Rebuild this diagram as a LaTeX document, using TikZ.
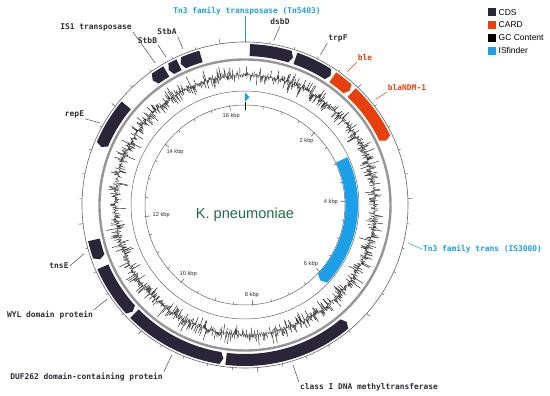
\documentclass[tikz,border=0pt]{standalone}
\usepackage{fontspec}
\setmainfont{Liberation Sans}
\newfontfamily\monof{DejaVu Sans Mono}
\definecolor{cds}{RGB}{42,37,57}
\definecolor{card}{RGB}{232,64,12}
\definecolor{isf}{RGB}{26,159,232}
\definecolor{txt}{RGB}{45,45,55}
\definecolor{kgreen}{RGB}{30,110,70}
\definecolor{ringgray}{RGB}{150,150,150}
\definecolor{circgray}{RGB}{100,100,100}
\tikzset{
  lbl/.style={font=\monof\bfseries\fontsize{7.9}{9}\selectfont, text=txt, inner sep=1pt},
  lead/.style={draw=txt!85, line width=0.5pt},
  kbp/.style={font=\fontsize{5.7}{6}\selectfont, text=txt, inner sep=0.8pt},
  legtxt/.style={font=\fontsize{8.5}{10}\selectfont, text=black, anchor=west, inner sep=0pt},
  legbox/.style={minimum width=8pt, minimum height=8pt, inner sep=0pt},
  gcl/.style={line width=0.45pt, black!90},
  thincirc/.style={draw=circgray, line width=0.5pt}
}
% clockwise feature, tip at end angle #2
\newcommand\featcw[5]{%
  \pgfmathsetmacro\fA{90-#1}%
  \pgfmathsetmacro\fB{90-#2}%
  \pgfmathsetmacro\fM{(#3+#4)/2}%
  \pgfmathsetmacro\fH{\fB+3/\fM*57.2958}%
  \fill[#5] (\fA:#4) arc[start angle=\fA, end angle=\fH, radius=#4 pt] -- (\fB:\fM)
    -- (\fH:#3) arc[start angle=\fH, end angle=\fA, radius=#3 pt] -- cycle;
}
% counter-clockwise feature, tip at start angle #1
\newcommand\featccw[5]{%
  \pgfmathsetmacro\fA{90-#1}%
  \pgfmathsetmacro\fB{90-#2}%
  \pgfmathsetmacro\fM{(#3+#4)/2}%
  \pgfmathsetmacro\fH{\fA-3/\fM*57.2958}%
  \fill[#5] (\fA:\fM) -- (\fH:#4) arc[start angle=\fH, end angle=\fB, radius=#4 pt]
    -- (\fB:#3) arc[start angle=\fB, end angle=\fH, radius=#3 pt] -- cycle;
}
\begin{document}
\begin{tikzpicture}[x=1pt,y=1pt]
\useasboundingbox (-245,-191) rectangle (305,205);
\fill[white] (-245,-191) rectangle (305,205);

% ---- rings
\draw[thincirc, line width=0.6pt] (0,0) circle[radius=163pt];
\draw[draw=ringgray, line width=2.4pt] (0,0) circle[radius=145.5pt];
\draw[thincirc] (0,0) circle[radius=114pt];
\draw[thincirc] (0,0) circle[radius=100pt];

% outer ticks every 0.4 kbp (16.4 kbp total)
\foreach \k in {0,...,40}{
  \pgfmathsetmacro\ta{90-\k*0.4/16.4*360}
  \pgfmathtruncatemacro\mj{mod(\k,5)==0 ? 1 : 0}
  \ifnum\mj=1
    \draw[circgray, line width=0.6pt] (\ta:163) -- (\ta:167.5);
  \else
    \draw[circgray, line width=0.5pt] (\ta:163) -- (\ta:165.5);
  \fi
}
% inner ruler ticks every 0.5 kbp
\foreach \j in {0,...,32}{
  \pgfmathsetmacro\ta{90-\j*0.5/16.4*360}
  \pgfmathtruncatemacro\mj{mod(\j,4)==0 ? 1 : 0}
  \ifnum\mj=1
    \draw[circgray, line width=0.6pt] (\ta:95.5) -- (\ta:101);
  \else
    \draw[circgray, line width=0.5pt] (\ta:97.5) -- (\ta:100);
  \fi
}
\draw[black, line width=0.9pt] (90:95) -- (90:103);
% ruler labels
\foreach \kb in {2,4,...,16}{
  \pgfmathsetmacro\ta{90-\kb/16.4*360}
  \node[kbp, anchor=\ta] (kb\kb) at (\ta:94) {\kb\ kbp};
}

% ---- GC content
\pgfmathsetseed{7}
\foreach \i in {0,...,1799}{
  \pgfmathsetmacro\ang{90-\i*0.2}
  \pgfmathsetmacro\rr{130+rand*(2+10.5*rnd^1.6)}
  \draw[gcl] (\ang:130) -- (\ang:\rr);
}

% ---- CDS / CARD features (angles clockwise from top)
\featcw{1.8}{18}{149}{161}{cds}
\featcw{19}{33.5}{149}{161}{cds}
\featcw{34.5}{42.5}{149}{161}{card}
\featcw{43.5}{65.5}{149}{161}{card}
\featccw{139}{187}{149}{161}{cds}
\featccw{188}{225.5}{149}{161}{cds}
\featccw{226.5}{246.5}{149}{161}{cds}
\featccw{249.5}{257}{149}{161}{cds}
\featccw{292}{310}{149}{161}{cds}
\featccw{323.5}{329.5}{149}{161}{cds}
\featccw{330.5}{334.8}{149}{161}{cds}
\featccw{335.5}{343.5}{149}{161}{cds}

% ---- ISfinder
\featcw{65}{135}{100.5}{113}{isf}
\fill[isf] (90:103.5) -- (90:112.5) -- (87.6:108) -- cycle;

% ---- centre title
\node[font=\fontsize{14.6}{16}\selectfont, text=kgreen] (title) at (0,-10) {K. pneumoniae};

% ---- leader end points on the outer ring
\coordinate (eTn)   at (90:166);
\coordinate (edsb)  at (90-9.9:167);
\coordinate (etrp)  at (90-26.7:168);
\coordinate (eble)  at (90-37.5:168);
\coordinate (ebla)  at (90-51:168);
\coordinate (eIS3)  at (90-103.1:167);
\coordinate (ecls)  at (90-163.3:167);
\coordinate (eduf)  at (90-206:167);
\coordinate (ewyl)  at (90-235.7:167);
\coordinate (etns)  at (90-253.2:168);
\coordinate (erep)  at (90-299.5:167);
\coordinate (eIS1)  at (90-327.7:168);
\coordinate (estbB) at (90-331.9:168);
\coordinate (estbA) at (90-338.3:168);

% ---- labels
\node[lbl, text=isf] (lTn) at (2,194) {Tn3 family transposase (Tn5403)};
\node[lbl] (ldsb) at (35,183) {dsbD};
\node[lbl] (ltrp) at (93,167) {trpF};
\node[lbl, text=card] (lble) at (120,147) {ble};
\node[lbl, text=card] (lbla) at (162,117) {blaNDM-1};
\node[lbl, text=isf] (lIS3) at (237.5,-44) {Tn3 family trans (IS3000)};
\node[lbl] (lcls) at (124,-182) {class I DNA methyltransferase};
\node[lbl] (lduf) at (-158.5,-172) {DUF262 domain-containing protein};
\node[lbl] (lwyl) at (-195,-110) {WYL domain protein};
\node[lbl] (ltns) at (-186,-61) {tnsE};
\node[lbl] (lrep) at (-170.5,91) {repE};
\node[lbl] (lIS1) at (-149,178) {IS1 transposase};
\node[lbl] (lstbB) at (-97.5,164) {StbB};
\node[lbl] (lstbA) at (-78,173) {StbA};

% ---- leaders
\draw[lead, draw=isf] (lTn.south -| eTn) -- (eTn);
\draw[lead] (ldsb.south) -- (edsb);
\draw[lead] (ltrp.south west) -- (etrp);
\draw[lead, draw=card] (lble.south west) -- (eble);
\draw[lead, draw=card] (lbla.south west) -- (ebla);
\draw[lead, draw=isf] (lIS3.west) -- (eIS3);
\draw[lead] (lcls.north west) -- (ecls);
\draw[lead] (lduf.north east) -- (eduf);
\draw[lead] (lwyl.north east) -- (ewyl);
\draw[lead] (ltns.east) -- (etns);
\draw[lead] (lrep.south east) -- (erep);
\draw[lead] (lIS1.south east) -- (eIS1);
\draw[lead] (lstbB.south east) -- (estbB);
\draw[lead] (lstbA.south east) -- (estbA);

% ---- legend
\node[legbox, fill=cds] (kCDS) at (247.5,192.5) {};
\node[legbox, fill=card] (kCARD) at (247.5,180) {};
\node[legbox, fill=black] (kGC) at (247.5,167.3) {};
\node[legbox, fill=isf] (kIS) at (247.5,154.3) {};
\node[legtxt] (tCDS) at (253.5,192.5) {CDS};
\node[legtxt] (tCARD) at (253.5,180) {CARD};
\node[legtxt] (tGC) at (253.5,167.3) {GC Content};
\node[legtxt] (tIS) at (253.5,154.3) {ISfinder};
\end{tikzpicture}
\end{document}
